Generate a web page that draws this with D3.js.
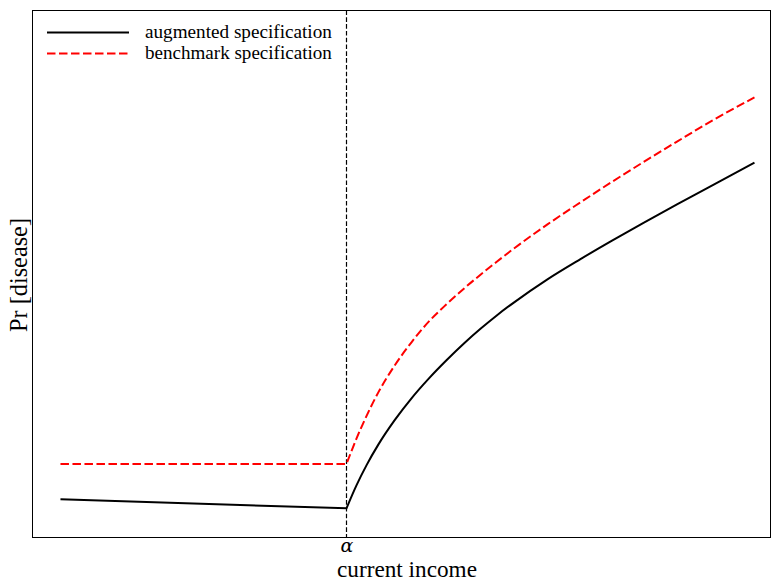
<!DOCTYPE html>
<html>
<head>
<meta charset="utf-8">
<script src="https://cdn.jsdelivr.net/npm/d3@7/dist/d3.min.js"></script>
<style>
  html, body { margin: 0; padding: 0; background: #fff; }
  svg { display: block; }
  text { font-family: "Liberation Serif", "DejaVu Serif", serif; fill: #000; }
</style>
</head>
<body>
<svg id="chart" width="771" height="580"></svg>
<script>
// ---- data (income in normalised units, Pr[disease] in normalised units) ----
const alpha = 0.4121;
const seriesNames = ["augmented specification", "benchmark specification"];

// augmented specification: slightly declining below alpha, concave rise above
const augFlatX = [0, 0.4121];
const augFlatY = [0.0724, 0.0554];
const augCurveX = [0.4121, 0.4265, 0.4409, 0.4582, 0.4813, 0.5058, 0.5303, 0.5562, 0.5821, 0.6052, 0.6282, 0.6527, 0.7017, 0.7493, 0.7954, 0.8401, 0.8890, 0.9366, 1.0];
const augCurveY = [0.0554, 0.0990, 0.1369, 0.1767, 0.2222, 0.2641, 0.3010, 0.3363, 0.3691, 0.3960, 0.4209, 0.4453, 0.4899, 0.5283, 0.5638, 0.5970, 0.6324, 0.6662, 0.7113];

// benchmark specification: flat below alpha, concave rise above
const benFlatX = [0, 0.4121];
const benFlatY = [0.1393, 0.1393];
const benCurveX = [0.4121, 0.4265, 0.4409, 0.4582, 0.4813, 0.5058, 0.5303, 0.5562, 0.5821, 0.6052, 0.6282, 0.6527, 0.7017, 0.7493, 0.7954, 0.8401, 0.8890, 0.9366, 1.0];
const benCurveY = [0.1393, 0.1877, 0.2303, 0.2758, 0.3259, 0.3704, 0.4091, 0.4425, 0.4732, 0.4986, 0.5228, 0.5477, 0.5941, 0.6360, 0.6755, 0.7124, 0.7517, 0.7892, 0.8351];

const xTickValues = [alpha];
const xTickLabels = ["α"];
const xLabel = "current income";
const yLabel = "Pr [disease]";

// ---- layout ----
const svg = d3.select("#chart");
const L = 32.5, R = 770.5, T = 10.5, B = 537.5;

const x = d3.scaleLinear().domain([-0.0403, 1.0231]).range([L, R]);
const y = d3.scaleLinear().domain([0, 1]).range([B, T]);

const zip = (xs, ys) => xs.map((v, i) => [v, ys[i]]);

function seriesPath(fx, fy, cx, cy) {
  const flat = d3.line().x(d => x(d[0])).y(d => y(d[1]))(zip(fx, fy));
  const curve = d3.line().x(d => x(d[0])).y(d => y(d[1])).curve(d3.curveMonotoneX)(zip(cx, cy));
  return flat + "L" + curve.slice(1);
}

// clip
svg.append("defs").append("clipPath").attr("id", "clip")
  .append("rect").attr("x", L).attr("y", T).attr("width", R - L).attr("height", B - T);

const plot = svg.append("g").attr("clip-path", "url(#clip)");

// vertical dashed line at alpha
plot.append("line")
  .attr("x1", Math.round(x(alpha)) + 0.5).attr("x2", Math.round(x(alpha)) + 0.5)
  .attr("y1", T).attr("y2", B)
  .attr("stroke", "#000").attr("stroke-width", 1.2)
  .attr("stroke-dasharray", "4.6,2.2");

plot.append("path")
  .attr("d", seriesPath(benFlatX, benFlatY, benCurveX, benCurveY))
  .attr("fill", "none").attr("stroke", "#ff0000").attr("stroke-width", 2)
  .attr("stroke-dasharray", "8.5,3.5");

plot.append("path")
  .attr("d", seriesPath(augFlatX, augFlatY, augCurveX, augCurveY))
  .attr("fill", "none").attr("stroke", "#000").attr("stroke-width", 2);

// frame
svg.append("rect").attr("x", L).attr("y", T).attr("width", R - L).attr("height", B - T)
  .attr("fill", "none").attr("stroke", "#000").attr("stroke-width", 1);

// x axis tick label
const xAxis = d3.axisBottom(x).tickValues(xTickValues).tickFormat((d, i) => xTickLabels[i]).tickSize(0).tickPadding(0);
const gx = svg.append("g").attr("transform", `translate(0,${B})`).call(xAxis);
gx.select(".domain").remove();
gx.selectAll("text")
  .attr("dy", null).attr("y", 14)
  .style("font-size", "19px").style("font-style", "italic")
  .style("font-family", '"DejaVu Serif", "Liberation Serif", serif');

function fitText(sel, target) {
  const w = sel.node().getComputedTextLength();
  const fs = parseFloat(sel.style("font-size"));
  sel.style("font-size", (fs * target / w) + "px");
}

// axis labels
const xl = svg.append("text").attr("x", 407).attr("y", 576.5).attr("text-anchor", "middle")
  .style("font-size", "20px").text(xLabel);
fitText(xl, 140);

const yl = svg.append("text").attr("transform", "translate(27,275) rotate(-90)")
  .attr("text-anchor", "middle").style("font-size", "20px").text(yLabel);
fitText(yl, 114);

// legend
const legend = svg.append("g");
const legItems = [
  { name: seriesNames[0], color: "#000", dash: null, y: 32.5, ty: 37.5 },
  { name: seriesNames[1], color: "#ff0000", dash: "8.5,3.5", y: 53.5, ty: 58.5 }
];
legItems.forEach(it => {
  legend.append("line").attr("x1", 47).attr("x2", 129).attr("y1", it.y).attr("y2", it.y)
    .attr("stroke", it.color).attr("stroke-width", 2)
    .attr("stroke-dasharray", it.dash);
  const t = legend.append("text").attr("x", 145).attr("y", it.ty).style("font-size", "16px").text(it.name);
  fitText(t, 187);
});
</script>
</body>
</html>
